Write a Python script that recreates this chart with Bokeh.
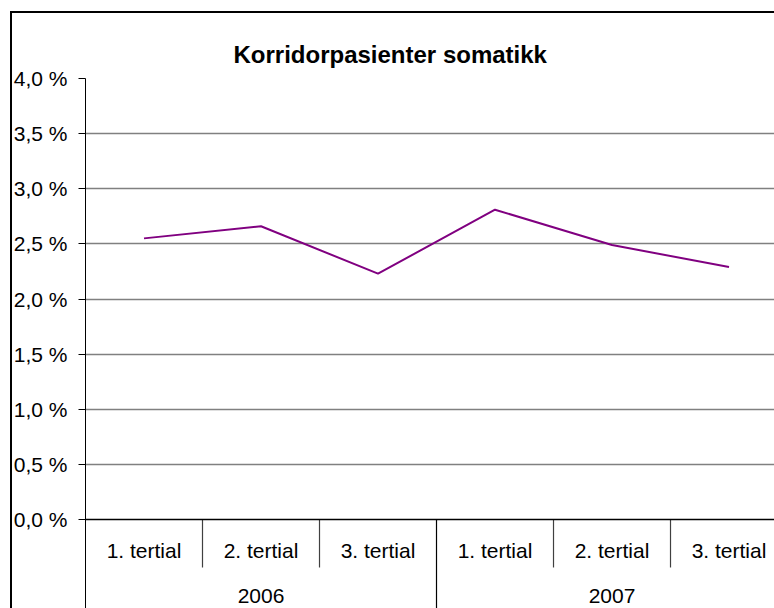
import numpy as np
from bokeh.plotting import figure
from bokeh.models import Range1d, FixedTicker, CustomJSTickFormatter, Span
from bokeh.core.properties import value
from bokeh.embed import file_html
from bokeh.resources import INLINE

# ---- data ----
years = ["2006", "2007"]
tertials = ["1. tertial", "2. tertial", "3. tertial"]
categories = [(y, t) for y in years for t in tertials]
values_pct = [2.55, 2.66, 2.23, 2.81, 2.49, 2.29]
y_ticks = [0.0, 0.5, 1.0, 1.5, 2.0, 2.5, 3.0, 3.5, 4.0]
title_text = "Korridorpasienter somatikk"

FONT = "Liberation Sans"
n = len(categories)
xpos = np.arange(n) + 0.5

p = figure(width=778, height=608, output_backend="svg", toolbar_location=None,
           x_range=Range1d(0, 5.923), y_range=Range1d(-0.807, 4.0),
           x_axis_location=None, min_border_left=85, min_border_right=0,
           min_border_top=78, min_border_bottom=0)
p.outline_line_color = None
p.background_fill_color = "white"
# transparent border area: the host's CSS background (white + chart box edges) shows through
p.border_fill_color = None
p.styles = {
    "background": ("linear-gradient(#000, #000) 10px 11px / 2px 100% no-repeat, "
                   "linear-gradient(#000, #000) 10px 11px / 100% 2px no-repeat, #fff"),
}

# title
p.title.text = title_text
p.title.text_font = FONT
p.title.text_font_size = "24px"
p.title.text_font_style = "bold"
p.title.text_color = "black"
p.title.align = "left"
p.title.offset = 148
p.title.standoff = 22

# y axis
ax = p.yaxis[0]
ax.ticker = FixedTicker(ticks=y_ticks)
ax.formatter = CustomJSTickFormatter(code="return tick.toFixed(1).replace('.', ',') + ' %';")
ax.major_label_text_font = FONT
ax.major_label_text_font_size = "21px"
ax.major_label_text_color = "black"
ax.major_tick_out = 7
ax.major_tick_in = 0
ax.minor_tick_line_color = None
ax.axis_line_color = "black"
ax.major_tick_line_color = "black"
ax.major_label_standoff = 11

p.xgrid.visible = False
p.ygrid.ticker = FixedTicker(ticks=y_ticks[1:])
p.ygrid.grid_line_color = "#808080"
p.ygrid.grid_line_width = 1.3

p.add_layout(Span(location=0, dimension="width", line_color="black", line_width=1.3))

# category separators
sep_short = [1, 2, 4, 5]
p.segment(x0=sep_short, y0=[0] * 4, x1=sep_short, y1=[-0.435] * 4,
          line_color="#404040", line_width=1.2)
p.segment(x0=[3], y0=[0], x1=[3], y1=[-0.807],
          line_color="black", line_width=1.2)

# category labels
p.text(x=xpos, y=[-0.28] * n, text=[c[1] for c in categories],
       text_font=value(FONT), text_font_size="21px", text_align="center",
       text_baseline="middle", text_color="black")
p.text(x=[1.5, 4.5], y=[-0.695] * 2, text=years,
       text_font=value(FONT), text_font_size="21px", text_align="center",
       text_baseline="middle", text_color="black")

# line
p.line(x=xpos, y=values_pct, line_color="#800080", line_width=2)

open("out.html", "w").write(file_html(p, INLINE))
